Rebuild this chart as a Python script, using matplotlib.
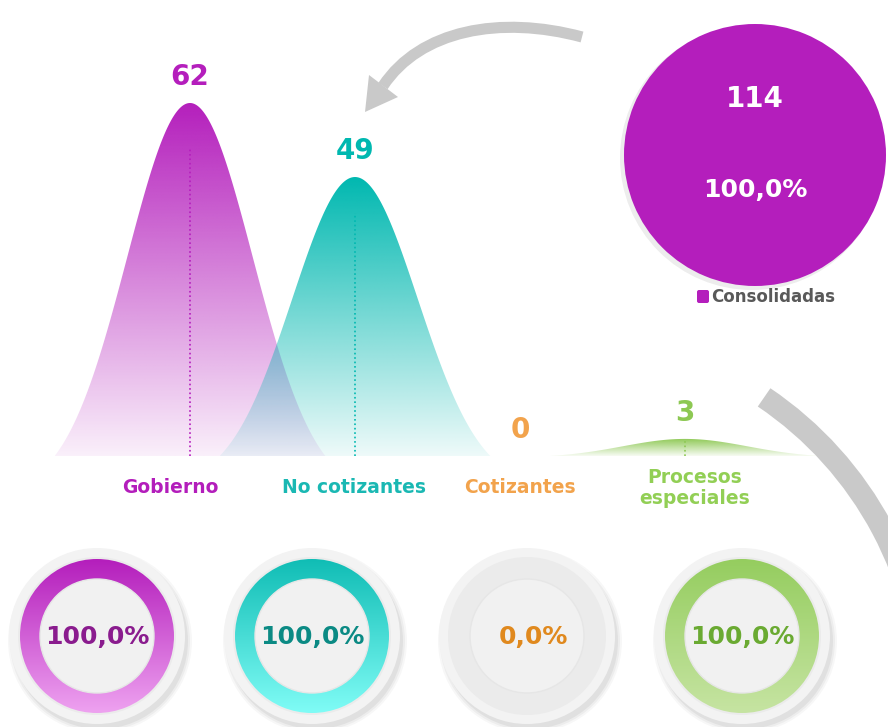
import numpy as np
import matplotlib.pyplot as plt
from matplotlib.patches import Polygon, Circle, Wedge, PathPatch, Arc, FancyBboxPatch
from matplotlib.path import Path
from matplotlib.colors import to_rgb

# datos
categories = ["Gobierno", "No cotizantes", "Cotizantes", "Procesos\nespeciales"]
values = [62, 49, 0, 3]
percentages = [100.0, 100.0, 0.0, 100.0]
total_label = "Consolidadas"
total_value = 114
total_pct = 100.0

colors = ["#B41EBC", "#00B8B0", "#F2A34C", "#8DC853"]
label_colors = ["#B31DBB", "#1AB8B3", "#F2A34C", "#92CF55"]
ring_top = ["#B41EBC", "#10BDB5", "#F2A34C", "#95CD5F"]
ring_bottom = ["#EEA2F0", "#80FCF6", "#F8D0A0", "#C6E4A2"]
pct_colors = ["#8A1C8E", "#0B8A84", "#E0891E", "#6AAA32"]
gray_arrow = "#C9C9C9"


def fmt_pct(p):
    return f"{p:.1f}".replace(".", ",") + "%"


W, H = 888, 727
fig = plt.figure(figsize=(W / 100, H / 100), dpi=100)

# escala de los picos (en pixeles)
px_unit = 165
x0_px = 190
base_px = 456
peak_px = 103
py_unit = (base_px - peak_px) / max(values)
label_dx = [-14, -1, 0, 7]  # desplazamiento de etiquetas (pt)

ax = fig.add_axes([0, 0, 1, 1])

sigma = 0.38
half = 0.82
xs = np.linspace(-half, half, 300)
g = np.exp(-0.5 * (xs / sigma) ** 2)
shape = (g - g[0]) / (1 - g[0])

for i, (v, c) in enumerate(zip(values, colors)):
    if v > 0:
        poly = Polygon(np.column_stack([xs + i, v * shape]), closed=True,
                       facecolor="none", edgecolor="none")
        ax.add_patch(poly)
        grad = np.zeros((256, 1, 4))
        grad[:, 0, :3] = to_rgb(c)
        grad[:, 0, 3] = np.linspace(1.0, 0.07, 256)
        im = ax.imshow(grad, extent=(i - half, i + half, 0, v), origin="upper",
                       aspect="auto", zorder=1 + i * 0.1, interpolation="bilinear")
        im.set_clip_path(poly)
        ax.plot([i, i], [0, 0.87 * v], ls=":", color=c, lw=1.2, zorder=3)
    ax.annotate(str(v), xy=(i, v), xytext=(0, 19), textcoords="offset points",
                ha="center", va="center", fontsize=20, fontweight="bold", color=c)
    ax.annotate(categories[i], xy=(i, 0), xytext=(label_dx[i], -23),
                textcoords="offset points", ha="center", va="center",
                fontsize=13.5, fontweight="bold", color=label_colors[i],
                linespacing=1.15)

ax.set_xlim(-x0_px / px_unit, (W - x0_px) / px_unit)
ax.set_ylim(-(H - base_px) / py_unit, base_px / py_unit)
ax.axis("off")

# capa en pixeles para circulos y flechas
ov = fig.add_axes([0, 0, 1, 1])
ov.patch.set_alpha(0)

# flecha superior
verts = [(582, 37), (500, 15), (420, 30), (383, 86)]
arrow = Path(verts, [Path.MOVETO, Path.CURVE4, Path.CURVE4, Path.CURVE4])
ov.add_patch(PathPatch(arrow, facecolor="none", edgecolor=gray_arrow, lw=8))
ov.add_patch(Polygon([(365, 112), (369, 75), (398, 97)], closed=True,
                     facecolor=gray_arrow, edgecolor="none"))

# arco derecho
ov.add_patch(Arc((560, 700), 730, 730, theta1=-56, theta2=0,
                 color=gray_arrow, lw=16))

# circulo total
ov.add_patch(Circle((752, 158), 132, color="black", alpha=0.07, lw=0))
ov.pie([total_value], colors=[colors[0]], center=(755, 155), radius=131,
       startangle=90, wedgeprops=dict(linewidth=0))
ov.text(755, 99, str(total_value), ha="center", va="center", fontsize=20,
        fontweight="bold", color="white")
ov.text(755, 190, fmt_pct(total_pct), ha="center", va="center", fontsize=18,
        fontweight="bold", color="white")
ov.add_patch(FancyBboxPatch((697, 290), 12, 13,
                            boxstyle="round,pad=0,rounding_size=2",
                            facecolor=colors[0], edgecolor="none"))
ov.text(711, 297.5, total_label, ha="left", va="center", fontsize=12,
        fontweight="bold", color="#595959")

# donas inferiores
for i, p in enumerate(percentages):
    cx, cy = 97 + 215 * i, 636
    for r, a in [(92, 0.03), (90, 0.04), (88, 0.05)]:
        ov.add_patch(Circle((cx + 3, cy + 5), r, color="black", alpha=a, lw=0, zorder=1))
    ov.add_patch(Circle((cx, cy), 88, facecolor="#F3F3F3", edgecolor="none", zorder=1))
    ov.add_patch(Circle((cx, cy), 79, facecolor="#EBEBEB", edgecolor="none", zorder=1))
    if p > 0:
        ring = Wedge((cx, cy), 77, 90 - 360 * p / 100, 90, width=20,
                     facecolor="none", edgecolor="none")
        ov.add_patch(ring)
        grad = np.zeros((256, 1, 3))
        t = np.linspace(0, 1, 256)[:, None]
        grad[:, 0, :] = (1 - t) * np.array(to_rgb(ring_top[i])) + t * np.array(to_rgb(ring_bottom[i]))
        im = ov.imshow(grad, extent=(cx - 77, cx + 77, cy + 77, cy - 77),
                       origin="upper", aspect="auto", interpolation="bilinear", zorder=2)
        im.set_clip_path(ring)
    ov.add_patch(Circle((cx, cy), 57, facecolor="#F1F1F1", edgecolor="#E6E6E6", lw=1, zorder=3))
    ov.text(cx + (6 if p == 0 else 0), cy + 1, fmt_pct(p), ha="center", va="center",
            fontsize=18, fontweight="bold", color=pct_colors[i], zorder=4)

ov.set_xlim(0, W)
ov.set_ylim(H, 0)
ov.set_aspect("auto")
ov.axis("off")

fig.savefig("out.png", dpi=100)
